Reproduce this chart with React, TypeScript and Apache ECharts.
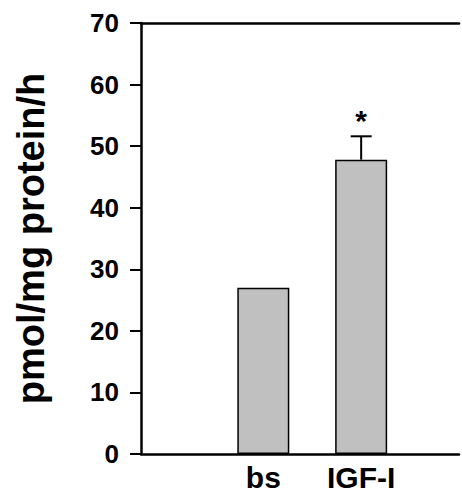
import React, { useEffect, useRef } from "react";
import * as echarts from "echarts";

const categories = ["bs", "IGF-I"];
const slotIndex = [2, 4];
const means = [27, 47.8];
const errors = [0, 3.8];
const marks = ["", "*"];
const yTicks = { min: 0, max: 70, interval: 10 };
const yTitle = "pmol/mg protein/h";

const FONT = "Liberation Sans, Arial, sans-serif";

export default function App() {
  const ref = useRef<HTMLDivElement>(null);
  useEffect(() => {
    if (!ref.current) return;
    const chart = echarts.init(ref.current, null, { renderer: "svg" });
    const pos = slotIndex.map((s) => s + 0.5);
    const barData = categories.map((_, i) => [pos[i], means[i]]);
    const errData = categories.map((_, i) => [pos[i], means[i], errors[i]]);
    const labelFor = (v: number) => {
      const k = pos.findIndex((p) => Math.abs(p - v) < 1e-6);
      return k >= 0 ? categories[k] : "";
    };
    chart.setOption({
      animation: false,
      backgroundColor: "#ffffff",
      grid: { left: 141, top: 23, bottom: 40, right: 0, containLabel: false },
      xAxis: [
        {
          type: "value",
          min: 0,
          max: 6.5,
          interval: 0.5,
          splitLine: { show: false },
          axisLine: { show: true, onZero: false, lineStyle: { color: "#000", width: 2.5 } },
          axisTick: { show: false },
          axisLabel: {
            formatter: (v: number) => labelFor(v),
            showMinLabel: true,
            showMaxLabel: true,
            color: "#000",
            fontSize: 30,
            fontWeight: "bold",
            fontFamily: FONT,
            margin: 8,
          },
        },
        {
          type: "value",
          position: "top",
          min: 0,
          max: 6.5,
          interval: 0.5,
          splitLine: { show: false },
          axisLine: { show: true, onZero: false, lineStyle: { color: "#000", width: 2.5 } },
          axisTick: { show: false },
          axisLabel: { show: false },
        },
      ],
      yAxis: {
        type: "value",
        min: yTicks.min,
        max: yTicks.max,
        interval: yTicks.interval,
        name: yTitle,
        nameLocation: "middle",
        nameGap: 91,
        nameTextStyle: { color: "#000", fontSize: 38, fontWeight: "bold", fontFamily: FONT },
        axisLine: { show: true, lineStyle: { color: "#000", width: 2.5 } },
        axisTick: { show: true, length: 11, lineStyle: { color: "#000", width: 2 } },
        splitLine: { show: false },
        axisLabel: { color: "#000", fontSize: 26, fontWeight: "bold", fontFamily: FONT, margin: 22 },
      },
      series: [
        {
          type: "bar",
          data: barData,
          barWidth: 52,
          itemStyle: { color: "#c0c0c0", borderColor: "#000", borderWidth: 1.5 },
        },
        {
          type: "custom",
          data: errData,
          z: 5,
          renderItem: (params: any, api: any) => {
            const x = api.value(0);
            const m = api.value(1);
            const e = api.value(2);
            const mark = marks[params.dataIndex];
            const base = api.coord([x, m]);
            const top = api.coord([x, m + e]);
            const children: any[] = [];
            if (e > 0) {
              children.push({
                type: "line",
                shape: { x1: base[0], y1: base[1], x2: top[0], y2: top[1] },
                style: { stroke: "#000", lineWidth: 2 },
              });
              children.push({
                type: "line",
                shape: { x1: top[0] - 10.5, y1: top[1], x2: top[0] + 10.5, y2: top[1] },
                style: { stroke: "#000", lineWidth: 2 },
              });
            }
            if (mark) {
              children.push({
                type: "text",
                style: {
                  text: mark,
                  x: top[0],
                  y: top[1] - 1,
                  align: "center",
                  verticalAlign: "bottom",
                  fontSize: 30,
                  fontWeight: "bold",
                  fontFamily: FONT,
                  fill: "#000",
                },
              });
            }
            return { type: "group", children };
          },
        },
      ],
    });
    return () => chart.dispose();
  }, []);
  return <div ref={ref} style={{ position: "fixed", left: 0, top: 0, width: 462, height: 494 }} />;
}
